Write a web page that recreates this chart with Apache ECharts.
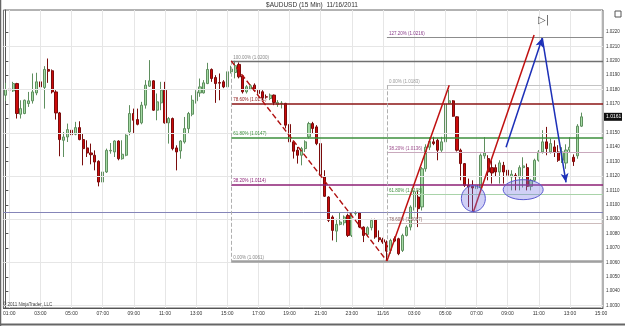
<!DOCTYPE html>
<html><head><meta charset="utf-8">
<script src="https://cdn.jsdelivr.net/npm/echarts@6/dist/echarts.min.js"></script>
<style>html,body{margin:0;padding:0;background:#fff}#c{width:625px;height:326px}</style>
</head><body><div id="c"></div><script>
// ---- candle data (15 min bars starting 11/15 00:45) ----
const opens = [1.01761,1.01803,1.01791,1.01842,1.01629,1.01634,1.01703,1.01722,1.01777,1.01854,
1.01815,1.01940,1.01931,1.01784,1.01638,1.01448,1.01471,1.01518,1.01490,1.01536,
1.01453,1.01395,1.01360,1.01344,1.01302,1.01158,1.01228,1.01374,1.01367,1.01443,
1.01320,1.01344,1.01506,1.01634,1.01592,1.01569,1.01692,1.01824,1.01861,1.01657,
1.01708,1.01796,1.01569,1.01599,1.01395,1.01374,1.01436,1.01529,1.01629,1.01722,
1.01777,1.01777,1.01842,1.01940,1.01884,1.01849,1.01854,1.01819,1.01924,1.01919,
1.01975,1.01896,1.01785,1.01803,1.01831,1.01796,1.01785,1.01750,1.01738,1.01762,
1.01697,1.01704,1.01704,1.01558,1.01437,1.01379,1.01344,1.01390,1.01472,1.01564,
1.01541,1.01425,1.01193,1.01054,1.00915,1.00817,1.00864,1.00875,1.00926,1.00787,
1.00940,1.00943,1.00845,1.00794,1.00841,1.00896,1.00771,1.00757,1.00741,1.00683,
1.00764,1.00764,1.00683,1.00787,1.00845,1.00984,1.01054,1.00985,1.01250,1.01400,
1.01437,1.01448,1.01379,1.01437,1.01705,1.01722,1.01611,1.01379,1.01286,1.01135,
1.01128,1.01112,1.01124,1.01340,1.01321,1.01258,1.01258,1.01228,1.01274,1.01240,
1.01193,1.01205,1.01193,1.01258,1.01258,1.01128,1.01170,1.01309,1.01367,1.01437,
1.01367,1.01402,1.01367,1.01309,1.01290,1.01380,1.01330,1.01340,1.01546];
const closes = [1.01801,1.01798,1.01842,1.01634,1.01668,1.01726,1.01722,1.01784,1.01854,1.01819,
1.01940,1.01928,1.01784,1.01638,1.01453,1.01471,1.01522,1.01487,1.01536,1.01453,
1.01390,1.01360,1.01348,1.01297,1.01158,1.01228,1.01378,1.01378,1.01443,1.01320,
1.01351,1.01483,1.01634,1.01587,1.01559,1.01692,1.01831,1.01861,1.01657,1.01715,
1.01796,1.01569,1.01599,1.01390,1.01367,1.01443,1.01529,1.01634,1.01726,1.01784,
1.01819,1.01847,1.01940,1.01877,1.01842,1.01845,1.01819,1.01924,1.01943,1.01966,
1.01889,1.01785,1.01820,1.01827,1.01796,1.01773,1.01743,1.01748,1.01762,1.01711,
1.01711,1.01706,1.01553,1.01437,1.01372,1.01344,1.01390,1.01437,1.01564,1.01530,
1.01425,1.01205,1.01059,1.00892,1.00822,1.00864,1.00880,1.00915,1.00787,1.00938,
1.00945,1.00845,1.00787,1.00841,1.00892,1.00776,1.00757,1.00741,1.00678,1.00752,
1.00748,1.00660,1.00787,1.00845,1.00984,1.01089,1.00973,1.01250,1.01400,1.01440,
1.01425,1.01379,1.01437,1.01700,1.01722,1.01615,1.01379,1.01286,1.01135,1.01124,
1.01117,1.01135,1.01344,1.01360,1.01228,1.01221,1.01228,1.01291,1.01228,1.01205,
1.01212,1.01195,1.01258,1.01270,1.01128,1.01170,1.01309,1.01367,1.01437,1.01390,
1.01425,1.01367,1.01309,1.01367,1.01380,1.01400,1.01300,1.01546,1.01611];
const lows = [1.01722,1.01794,1.01784,1.01599,1.01599,1.01629,1.01680,1.01703,1.01761,1.01815,
1.01668,1.01847,1.01773,1.01592,1.01337,1.01332,1.01436,1.01483,1.01483,1.01448,
1.01274,1.01332,1.01281,1.01239,1.01128,1.01142,1.01221,1.01355,1.01332,1.01309,
1.01313,1.01337,1.01483,1.01499,1.01552,1.01559,1.01668,1.01819,1.01652,1.01587,
1.01657,1.01564,1.01425,1.01378,1.01239,1.01320,1.01425,1.01494,1.01615,1.01703,
1.01750,1.01773,1.01838,1.01854,1.01708,1.01726,1.01810,1.01801,1.01912,1.01878,
1.01878,1.01773,1.01773,1.01796,1.01789,1.01750,1.01727,1.01738,1.01727,1.01692,
1.01680,1.01669,1.01530,1.01414,1.01321,1.01286,1.01274,1.01367,1.01460,1.01495,
1.01414,1.01158,1.01054,1.00880,1.00752,1.00741,1.00857,1.00857,1.00776,1.00776,
1.00926,1.00838,1.00741,1.00780,1.00822,1.00764,1.00741,1.00729,1.00613,1.00660,
1.00741,1.00650,1.00672,1.00780,1.00822,1.00960,1.00845,1.00960,1.01230,1.01380,
1.01414,1.01309,1.01367,1.01414,1.01700,1.01611,1.01370,1.01170,1.01124,1.00984,
1.00950,1.00984,1.01100,1.01320,1.01170,1.01147,1.01200,1.01147,1.01147,1.01124,
1.01100,1.01100,1.01100,1.01120,1.01100,1.01100,1.01160,1.01300,1.01356,1.01344,
1.01356,1.01332,1.01298,1.01290,1.01250,1.01360,1.01270,1.01320,1.01540];
const highs = [1.01847,1.01854,1.01854,1.01847,1.01726,1.01731,1.01784,1.01912,1.01917,1.01861,
1.01963,1.02016,1.01940,1.01796,1.01645,1.01506,1.01564,1.01576,1.01576,1.01580,
1.01494,1.01448,1.01425,1.01378,1.01309,1.01332,1.01390,1.01429,1.01448,1.01448,
1.01448,1.01490,1.01692,1.01668,1.01668,1.01715,1.01866,1.02005,1.01866,1.01773,
1.01854,1.01854,1.01610,1.01606,1.01413,1.01448,1.01610,1.01645,1.01761,1.01796,
1.01877,1.01866,1.01986,1.01947,1.01900,1.01912,1.01866,1.01931,1.01966,1.02000,
1.01989,1.01901,1.01831,1.01836,1.01843,1.01808,1.01796,1.01766,1.01773,1.01766,
1.01727,1.01720,1.01708,1.01562,1.01440,1.01402,1.01402,1.01448,1.01576,1.01576,
1.01553,1.01437,1.01240,1.01059,1.00926,1.00903,1.00950,1.00926,1.00938,1.00950,
1.00955,1.00950,1.00850,1.00850,1.00903,1.00903,1.00822,1.00771,1.00752,1.00764,
1.00780,1.00771,1.00799,1.00857,1.00996,1.01100,1.01100,1.01262,1.01420,1.01470,
1.01472,1.01460,1.01472,1.01710,1.01831,1.01727,1.01615,1.01390,1.01290,1.01182,
1.01170,1.01170,1.01356,1.01470,1.01344,1.01309,1.01280,1.01309,1.01298,1.01245,
1.01240,1.01220,1.01274,1.01330,1.01286,1.01180,1.01320,1.01380,1.01518,1.01541,
1.01460,1.01448,1.01414,1.01400,1.01420,1.01470,1.01350,1.01560,1.01640];

// ---- axes ----
const yTicks = [1.0030,1.0040,1.0050,1.0060,1.0070,1.0080,1.0090,1.0100,1.0110,1.0120,
1.0130,1.0140,1.0150,1.0160,1.0170,1.0180,1.0190,1.0200,1.0210,1.0220];
const gridPrices = [1.0030,1.0060,1.0090,1.0120,1.0150,1.0180,1.0210];
const yMin = 1.00283, yMax = 1.02353;
const slotCount = 154; // 11/15 00:45 .. 11/16 15:00
const categories = [];
for (let i = 0; i < slotCount; i++) {
  const t = 45 + i * 15;
  const day = 15 + Math.floor(t / 1440);
  const m = t % 1440;
  const hh = String(Math.floor(m / 60)).padStart(2, '0');
  const mm = String(m % 60).padStart(2, '0');
  categories.push('11/' + day + ' ' + hh + ':' + mm);
}
function isLabelSlot(i) {
  const c = categories[i]; const hm = c.split(' ')[1];
  const h = parseInt(hm.slice(0, 2), 10); return hm.slice(3) === '00' && h % 2 === 1;
}
function labelText(c) {
  const parts = c.split(' ');
  if (parts[0] === '11/16' && parts[1] === '01:00') return '11/16';
  return parts[1];
}
const labelSlots = categories.map((c, i) => i).filter(isLabelSlot);

// ---- fibonacci retracements (start slot index, price, text) ----
const fibAStart = 58;
const fibAPrices = [1.0200, 1.01703, 1.01469, 1.01141, 1.0061];
const fibATexts = ['100.00% (1.0200)', '78.60% (1.0171)', '61.80% (1.0147)', '38.20% (1.0114)', '0.00% (1.0061)'];
const fibBStart = 98;
const fibBPrices = [1.02162, 1.0183, 1.01364, 1.01076, 1.00871, 1.0061];
const fibBTexts = ['127.20% (1.0216)', '0.00% (1.0183)', '38.20% (1.0136)', '61.80% (1.0108)', '78.60% (1.0087)', '100.00% (1.0061)'];
const fullLinePrice = 1.0095;

// ---- drawn annotations [slot, price] ----
const redDashed = [[58, 1.0200], [98, 1.0061]];
const redUp1 = [[98, 1.0061], [114, 1.0183]];
const redUp2 = [[120.2, 1.0095], [135.8, 1.0218]];
const blueUp = [[128.6, 1.0140], [137.9, 1.02158]];
const blueDown = [[137.9, 1.02158], [144.0, 1.01156]];
const ellipses = [[120.2, 1.01043, 12, 13], [133.0, 1.01105, 20, 10]];

const candleData = opens.map((o, i) => [o, closes[i], lows[i], highs[i]]);
const xEnd = slotCount - 0.5;
const FONT = 'Liberation Sans';

function hLine(price, x0, color, width, text, labelColor, type) {
  return [{ coord: [x0, price], lineStyle: { color: color, width: width, type: type || 'solid' },
      label: text ? { show: true, formatter: text, position: 'insideStartTop', distance: [2, 1], fontSize: 4.5, color: labelColor, fontFamily: FONT } : { show: false } },
    { coord: [xEnd, price] }];
}
function seg(pts, color, width, type, arrow) {
  return [{ coord: pts[0], lineStyle: { color: color, width: width, type: type || 'solid' }, symbol: 'none' },
    { coord: pts[1], symbol: arrow ? 'arrow' : 'none', symbolSize: arrow ? [6, 9] : 0 }];
}

const gridMarks = gridPrices.map(p => [{ coord: [-0.5, p] }, { coord: [xEnd, p] }])
  .concat(labelSlots.map(s => [{ coord: [s, yMin] }, { coord: [s, yMax] }]));

const fibMarks = [
  hLine(fibBPrices[0], fibBStart, '#8c8c8c', 1, fibBTexts[0], '#8a3d8a'),
  hLine(fibAPrices[0], fibAStart, '#707070', 1.3, fibATexts[0], '#888'),
  hLine(fibBPrices[1], fibBStart, '#c4c4c4', 1, fibBTexts[1], '#999'),
  hLine(fibAPrices[1], fibAStart, '#8b1515', 1.5, fibATexts[1], '#8b1515'),
  hLine(fibAPrices[2], fibAStart, '#3d8f3d', 1.5, fibATexts[2], '#3d8f3d'),
  hLine(fibBPrices[2], fibBStart, '#c9a9bd', 1, fibBTexts[2], '#9a4a8a'),
  hLine(fibAPrices[3], fibAStart, '#8c1f75', 1.5, fibATexts[3], '#8c1f75'),
  hLine(fibBPrices[3], fibBStart, '#a9d3a9', 1, fibBTexts[3], '#3d8f3d'),
  hLine(fullLinePrice, -0.5, '#8585b8', 1, null, null),
  hLine(fibBPrices[4], fibBStart, '#cdbcbc', 1, fibBTexts[4], '#8a6060'),
  hLine(fibAPrices[4], fibAStart, '#a0a0a0', 2.5, fibATexts[4], '#888'),
  [{ coord: [fibAStart, fibAPrices[0]], lineStyle: { color: '#b0b0b0', width: 1 } }, { coord: [fibAStart, fibAPrices[4]] }],
  [{ coord: [fibBStart, fibBPrices[1]], lineStyle: { color: '#b0b0b0', width: 1 } }, { coord: [fibBStart, fibBPrices[5]] }],
  [{ coord: [fibBStart, fibBPrices[5]], label: { show: true, formatter: fibBTexts[5], position: 'insideStartBottom', distance: [2, 1], fontSize: 4.5, color: '#888', fontFamily: FONT }, lineStyle: { opacity: 0 } }, { coord: [fibBStart + 20, fibBPrices[5]] }]
];

const drawMarks = [
  seg(redDashed, '#b01010', 1.4, 'dashed', false),
  seg(redUp1, '#c01010', 1.5, 'solid', false),
  seg(redUp2, '#c01010', 1.5, 'solid', false),
  seg(blueUp, '#1c2fb8', 1.5, 'solid', true),
  seg(blueDown, '#1c2fb8', 1.5, 'solid', true)
];

const chart = echarts.init(document.getElementById('c'), null, { renderer: 'canvas' });
chart.setOption({
  animation: false,
  backgroundColor: '#ffffff',
  textStyle: { fontFamily: FONT },
  grid: { left: 2, right: 22, top: 10, bottom: 18, show: true, borderColor: '#666', borderWidth: 1 },
  xAxis: [{
    type: 'category', data: categories, boundaryGap: true,
    axisLine: { lineStyle: { color: '#555', width: 1 } },
    axisTick: { alignWithLabel: true, interval: (i) => isLabelSlot(i), length: 2, lineStyle: { color: '#555' } },
    axisLabel: { interval: (i) => isLabelSlot(i), formatter: labelText, fontSize: 5, color: '#333', margin: 3, fontFamily: FONT },
    splitLine: { show: false }
  }, {
    type: 'value', min: -0.5, max: xEnd, show: false
  }],
  yAxis: [{
    type: 'value', position: 'right', min: yMin, max: yMax, scale: true,
    axisLine: { show: true, lineStyle: { color: '#555', width: 1 } },
    axisTick: { show: true, customValues: yTicks, length: 3, lineStyle: { color: '#555' } },
    axisLabel: { customValues: yTicks, formatter: (v) => v.toFixed(4), fontSize: 4.5, color: '#333', margin: 3, fontFamily: FONT },
    splitLine: { show: false }
  }],
  series: [{
    type: 'line', xAxisIndex: 1, yAxisIndex: 0, data: [], silent: true, z: 1,
    markLine: { silent: true, symbol: ['none', 'none'], animation: false, label: { show: false },
      lineStyle: { color: '#e6e6e6', width: 1, type: 'solid' }, data: gridMarks }
  }, {
    type: 'line', xAxisIndex: 1, yAxisIndex: 0, data: [], silent: true, z: 2,
    markLine: { silent: true, symbol: ['none', 'none'], animation: false, data: fibMarks }
  }, {
    type: 'candlestick', xAxisIndex: 0, yAxisIndex: 0, data: candleData, barWidth: 2.6, z: 3,
    itemStyle: { color: '#a4dba4', color0: '#cc0a0a', borderColor: '#5f8f5f', borderColor0: '#7a0c0c', borderWidth: 1 }
  }, {
    type: 'line', xAxisIndex: 1, yAxisIndex: 0, data: [], silent: true, z: 4,
    markLine: { silent: true, symbol: ['none', 'none'], animation: false, label: { show: false }, data: drawMarks }
  }]
});

// overlays positioned through the chart's own coordinate system
const gfx = [];
ellipses.forEach(e => {
  const p = chart.convertToPixel({ xAxisIndex: 1, yAxisIndex: 0 }, [e[0], e[1]]);
  gfx.push({ type: 'ellipse', shape: { cx: p[0], cy: p[1], rx: e[2], ry: e[3] }, z: 100,
    style: { fill: 'rgba(120,120,230,0.35)', stroke: '#5a5ad0', lineWidth: 1 } });
});
const lastClose = closes[closes.length - 1];
const py = chart.convertToPixel({ yAxisIndex: 0 }, lastClose);
gfx.push({ type: 'rect', shape: { x: 604, y: py - 4, width: 18, height: 8 }, style: { fill: '#111' }, z: 100 });
gfx.push({ type: 'text', x: 606, y: py, z: 101, style: { text: lastClose.toFixed(4), fill: '#fff', font: '5px ' + FONT, verticalAlign: 'middle' } });
gfx.push({ type: 'text', x: 312, y: 5, z: 101, style: { text: '$AUDUSD (15 Min)  11/16/2011', fill: '#333', font: '6.5px ' + FONT, align: 'center', verticalAlign: 'middle' } });
gfx.push({ type: 'text', x: 3, y: 305, z: 101, style: { text: '\u00a9 2011 NinjaTrader, LLC', fill: '#444', font: '4.5px ' + FONT, verticalAlign: 'middle' } });
gfx.push({ type: 'text', x: 538, y: 20, z: 101, style: { text: '\u25b7|', fill: '#555', font: '10px DejaVu Sans', verticalAlign: 'middle' } });
gfx.push({ type: 'rect', shape: { x: 615, y: 11, width: 6, height: 6 }, style: { fill: '#fff', stroke: '#555', lineWidth: 1 }, z: 101 });
gfx.push({ type: 'line', shape: { x1: 0.5, y1: 0, x2: 0.5, y2: 326 }, style: { stroke: '#666', lineWidth: 1.5 }, z: 101 });
gfx.push({ type: 'line', shape: { x1: 0, y1: 324.5, x2: 625, y2: 324.5 }, style: { stroke: '#666', lineWidth: 2 }, z: 101 });
chart.setOption({ graphic: gfx });
</script></body></html>
